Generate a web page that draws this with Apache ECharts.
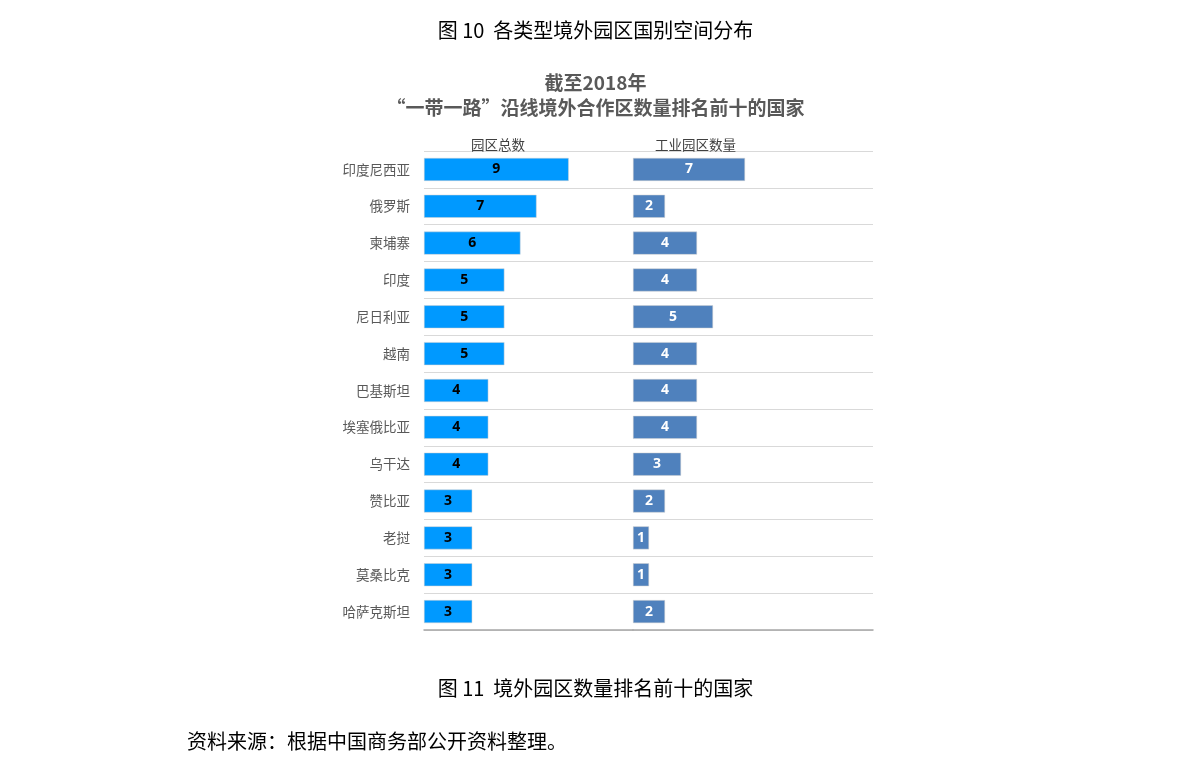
<!DOCTYPE html>
<html>
<head>
<meta charset="utf-8">
<script src="https://cdn.jsdelivr.net/npm/echarts@6/dist/echarts.min.js"></script>
<style>
html,body{margin:0;padding:0;background:#fff;}
#c{width:1191px;height:768px;}
</style>
</head>
<body>
<div id="c"></div>
<script>
const categories = ['印度尼西亚','俄罗斯','柬埔寨','印度','尼日利亚','越南','巴基斯坦','埃塞俄比亚','乌干达','赞比亚','老挝','莫桑比克','哈萨克斯坦'];
const totalParks = [9,7,6,5,5,5,4,4,4,3,3,3,3];
const industrialParks = [7,2,4,4,5,4,4,4,3,2,1,1,2];
const seriesNames = ['园区总数','工业园区数量'];

const chart = echarts.init(document.getElementById('c'));
const cjk = '"Noto Sans CJK SC", "Noto Sans", sans-serif';
const gridTop = 151, gridH = 479;

function yAxisCfg(idx, showLabel) {
  return {
    type: 'category', gridIndex: idx, data: categories, inverse: true,
    axisLine: {show: false}, axisTick: {show: false},
    axisLabel: {show: showLabel, color: '#595959', fontSize: 13.5, fontFamily: cjk, margin: 14},
    splitLine: {show: true, lineStyle: {color: '#d9d9d9', width: 1}}
  };
}
function xAxisCfg(idx, max) {
  return {
    type: 'value', gridIndex: idx, min: 0, max: max,
    axisLabel: {show: false}, axisTick: {show: false}, splitLine: {show: false},
    axisLine: {show: true, lineStyle: {color: '#a6a6a6', width: 1.5}}
  };
}

chart.setOption({
  animation: false,
  backgroundColor: '#fff',
  title: [
    {text: '图 10  各类型境外园区国别空间分布', left: 'center', top: 15,
     textStyle: {fontFamily: cjk, fontSize: 20, fontWeight: 'normal', color: '#000'}},
    {text: '截至2018年', left: 'center', top: 68,
     textStyle: {fontFamily: cjk, fontSize: 19, fontWeight: 'bold', color: '#595959'}},
    {text: '“一带一路”沿线境外合作区数量排名前十的国家', left: 'center', top: 93,
     textStyle: {fontFamily: cjk, fontSize: 19, fontWeight: 'bold', color: '#595959'}},
    {text: seriesNames[0], left: 466, top: 133,
     textStyle: {fontFamily: cjk, fontSize: 13.5, fontWeight: 'normal', color: '#404040'}},
    {text: seriesNames[1], left: 650, top: 133,
     textStyle: {fontFamily: cjk, fontSize: 13.5, fontWeight: 'normal', color: '#404040'}},
    {text: '图 11  境外园区数量排名前十的国家', left: 'center', top: 673,
     textStyle: {fontFamily: cjk, fontSize: 20, fontWeight: 'normal', color: '#000'}},
    {text: '资料来源：根据中国商务部公开资料整理。', left: 182, top: 726,
     textStyle: {fontFamily: cjk, fontSize: 20, fontWeight: 'normal', color: '#000'}}
  ],
  grid: [
    {left: 424, width: 209, top: gridTop, height: gridH},
    {left: 633, width: 240, top: gridTop, height: gridH}
  ],
  xAxis: [xAxisCfg(0, 13), xAxisCfg(1, 15)],
  yAxis: [yAxisCfg(0, true), yAxisCfg(1, false)],
  series: [
    {name: seriesNames[0], type: 'bar', xAxisIndex: 0, yAxisIndex: 0, data: totalParks,
     barWidth: 23,
     itemStyle: {color: '#0099ff', borderColor: '#d0d0d0', borderWidth: 0.5},
     label: {show: true, position: 'inside', color: '#000', fontWeight: 'bold', fontSize: 14, fontFamily: '"Open Sans", sans-serif'}},
    {name: seriesNames[1], type: 'bar', xAxisIndex: 1, yAxisIndex: 1, data: industrialParks,
     barWidth: 23,
     itemStyle: {color: '#4f81bd', borderColor: '#d0d0d0', borderWidth: 0.5},
     label: {show: true, position: 'inside', color: '#fff', fontWeight: 'bold', fontSize: 14, fontFamily: '"Open Sans", sans-serif'}}
  ]
});
</script>
</body>
</html>
